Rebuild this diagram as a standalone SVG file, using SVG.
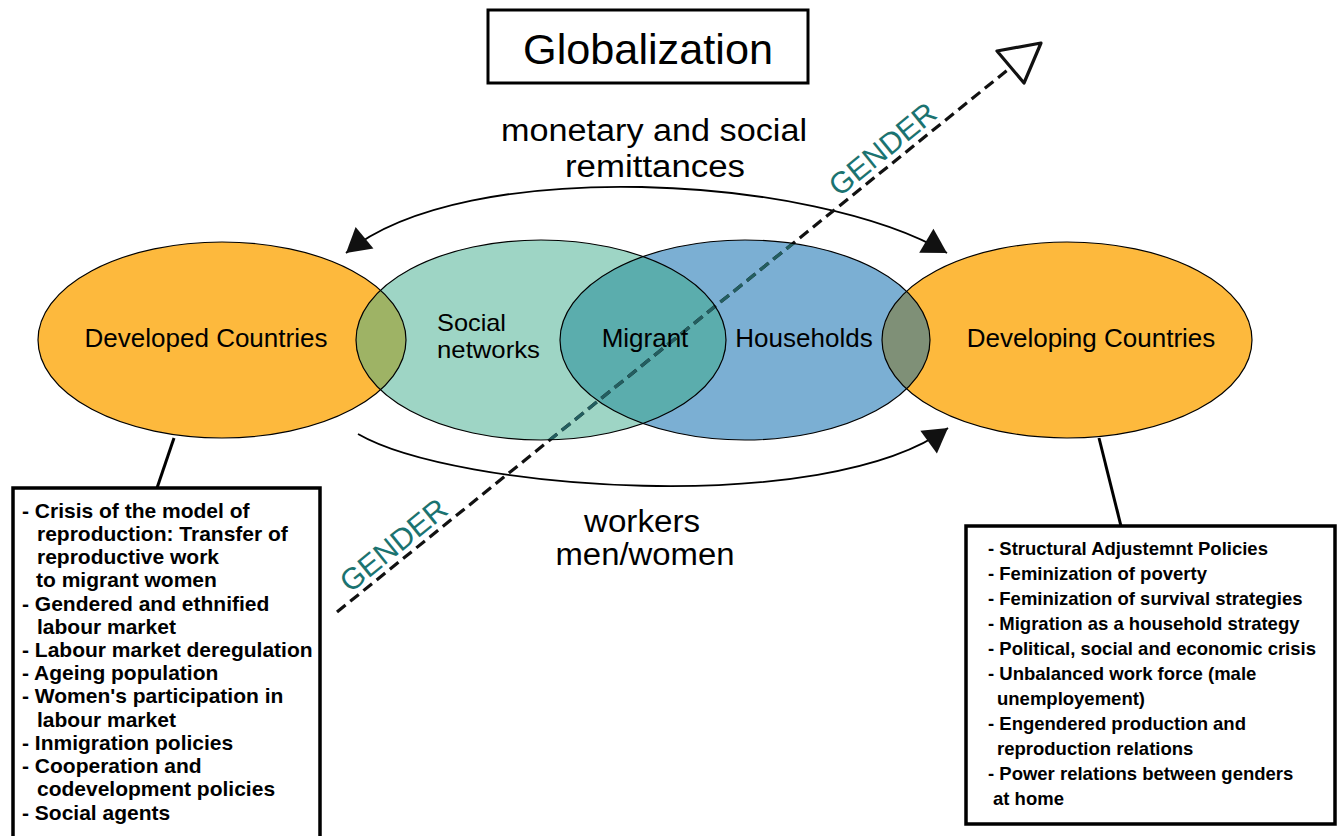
<svg xmlns="http://www.w3.org/2000/svg" width="1343" height="836" viewBox="0 0 1343 836">
<style>
text{font-family:"Liberation Sans",Arial,sans-serif;fill:#000}
.big{font-size:31px}
.node{font-size:26px}
.sn{font-size:24px}
.lb{font-size:21px;font-weight:bold}
.rb{font-size:18.5px;font-weight:bold}
.gender{font-size:30px;fill:#1b7370}
.ol{fill:none;stroke:#000;stroke-width:1.2}
.box{fill:#fff;stroke:#000;stroke-width:3.5}
.conn{fill:none;stroke:#000;stroke-width:1.8}
.lead{fill:none;stroke:#000;stroke-width:3}
.dash{fill:none;stroke-width:3.2;stroke-dasharray:11 6}
</style>
<defs>
<marker id="ah" markerUnits="userSpaceOnUse" viewBox="-25 -15 27 30" refX="0" refY="0" markerWidth="27" markerHeight="30" orient="auto-start-reverse">
<path d="M0,0 L-24,-14 L-24,14 Z" fill="#111"/>
</marker>
<ellipse id="e1" cx="222" cy="340" rx="184" ry="98"/>
<ellipse id="e2" cx="541" cy="340" rx="185" ry="100"/>
<ellipse id="e3" cx="745" cy="340" rx="185" ry="100"/>
<ellipse id="e4" cx="1067" cy="340" rx="185" ry="98"/>
<clipPath id="c1"><use href="#e1"/></clipPath>
<clipPath id="c2"><use href="#e2"/></clipPath>
<clipPath id="c4"><use href="#e4"/></clipPath>
<clipPath id="c23"><use href="#e2"/><use href="#e3"/></clipPath>
</defs>
<rect width="1343" height="836" fill="#fff"/>

<g id="globalization">
<rect x="488" y="10" width="320" height="73" fill="#fff" stroke="#000" stroke-width="3"/>
<text x="648" y="64" text-anchor="middle" style="font-size:42px" textLength="250" lengthAdjust="spacingAndGlyphs">Globalization</text>
</g>

<g id="ellipses-fill">
<use href="#e1" fill="#FDB93D"/>
<use href="#e2" fill="#9ED5C5"/>
<use href="#e3" fill="#7BAFD3"/>
<use href="#e4" fill="#FDB93D"/>
<use href="#e2" fill="#9EB365" clip-path="url(#c1)"/>
<use href="#e3" fill="#5BADAD" clip-path="url(#c2)"/>
<use href="#e3" fill="#7F9077" clip-path="url(#c4)"/>
</g>

<g id="connectors">
<path class="conn" d="M346,253 C465,155 815,175 947,253" marker-start="url(#ah)" marker-end="url(#ah)"/>
<path class="conn" d="M358,434 C455,490 825,518 948,428" marker-end="url(#ah)"/>
<line class="lead" x1="174" y1="438" x2="157" y2="488"/>
<line class="lead" x1="1099" y1="438" x2="1121" y2="526"/>
<line class="dash" stroke="#111" x1="337" y1="612" x2="1010" y2="68"/>
<line class="dash" stroke="#235e60" x1="337" y1="612" x2="1010" y2="68" clip-path="url(#c23)"/>
<polygon points="997,51 1041,43 1024,83" fill="#fff" stroke="#111" stroke-width="3.2" stroke-linejoin="round"/>
</g>

<g id="ellipses-outline">
<use href="#e1" class="ol"/>
<use href="#e2" class="ol"/>
<use href="#e3" class="ol"/>
<use href="#e4" class="ol"/>
</g>

<g id="developed-countries"><text class="node" x="206" y="347" text-anchor="middle">Developed Countries</text></g>
<g id="social-networks"><text class="sn" x="437" y="331" textLength="69" lengthAdjust="spacingAndGlyphs">Social</text><text class="sn" x="437" y="358" textLength="103" lengthAdjust="spacingAndGlyphs">networks</text></g>
<g id="migrant"><text class="node" x="645" y="347" text-anchor="middle">Migrant</text></g>
<g id="households"><text class="node" x="804" y="347" text-anchor="middle">Households</text></g>
<g id="developing-countries"><text class="node" x="1091" y="347" text-anchor="middle">Developing Countries</text></g>

<g id="remittances-label">
<text class="big" x="654" y="141" text-anchor="middle" textLength="306" lengthAdjust="spacingAndGlyphs">monetary and social</text>
<text class="big" x="655" y="177" text-anchor="middle" textLength="180" lengthAdjust="spacingAndGlyphs">remittances</text>
</g>
<g id="workers-label">
<text class="big" x="642" y="532" text-anchor="middle" textLength="116" lengthAdjust="spacingAndGlyphs">workers</text>
<text class="big" x="645" y="565" text-anchor="middle" textLength="179" lengthAdjust="spacingAndGlyphs">men/women</text>
</g>

<g id="gender-labels">
<text class="gender" text-anchor="middle" transform="translate(889,157) rotate(-39)">GENDER</text>
<text class="gender" text-anchor="middle" transform="translate(400,553) rotate(-39)">GENDER</text>
</g>

<g id="developed-box">
<path class="box" d="M13,840 V488 H320 V840"/>
<text class="lb" x="22" y="518">- Crisis of the model of</text>
<text class="lb" x="37" y="541">reproduction: Transfer of</text>
<text class="lb" x="37" y="564">reproductive work</text>
<text class="lb" x="36" y="587">to migrant women</text>
<text class="lb" x="22" y="611">- Gendered and ethnified</text>
<text class="lb" x="37" y="634">labour market</text>
<text class="lb" x="22" y="657">- Labour market deregulation</text>
<text class="lb" x="22" y="680">- Ageing population</text>
<text class="lb" x="22" y="703">- Women's participation in</text>
<text class="lb" x="37" y="727">labour market</text>
<text class="lb" x="22" y="750">- Inmigration policies</text>
<text class="lb" x="22" y="773">- Cooperation and</text>
<text class="lb" x="37" y="796">codevelopment policies</text>
<text class="lb" x="22" y="820">- Social agents</text>
</g>

<g id="developing-box">
<rect class="box" x="966" y="526" width="369" height="298"/>
<text class="rb" x="988" y="555">- Structural Adjustemnt Policies</text>
<text class="rb" x="988" y="580">- Feminization of poverty</text>
<text class="rb" x="988" y="605">- Feminization of survival strategies</text>
<text class="rb" x="988" y="630">- Migration as a household strategy</text>
<text class="rb" x="988" y="655">- Political, social and economic crisis</text>
<text class="rb" x="988" y="680">- Unbalanced work force (male</text>
<text class="rb" x="997" y="705">unemployement)</text>
<text class="rb" x="988" y="730">- Engendered production and</text>
<text class="rb" x="997" y="755">reproduction relations</text>
<text class="rb" x="988" y="780">- Power relations between genders</text>
<text class="rb" x="993" y="805">at home</text>
</g>
</svg>
